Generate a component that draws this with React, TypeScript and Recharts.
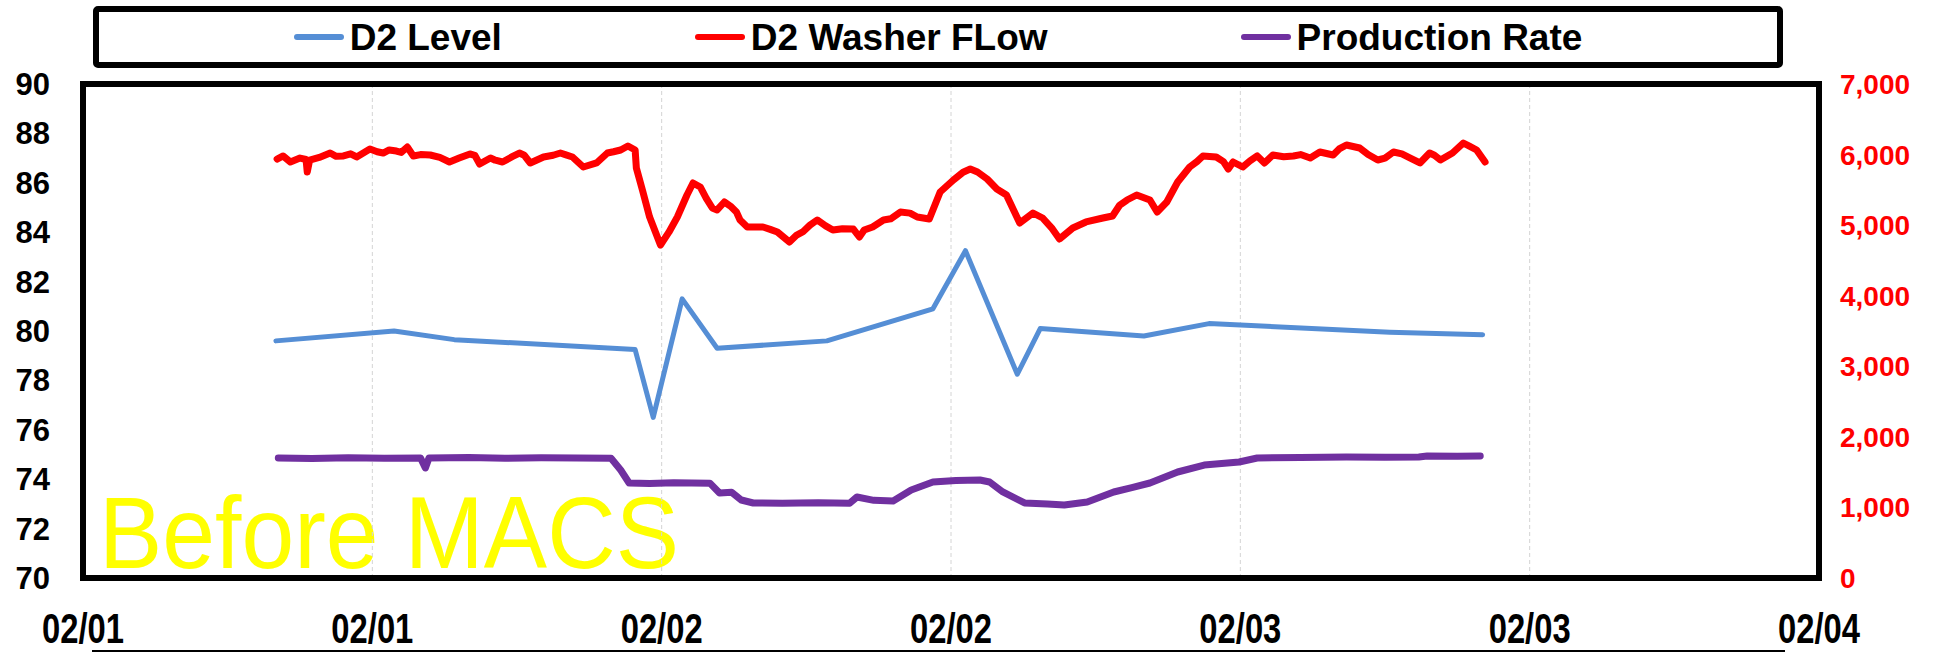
import React from 'react';
import { LineChart, Line, XAxis, YAxis, CartesianGrid, ReferenceArea } from 'recharts';

// hours since 02/01 00:00 -> value
const levelPoints: [number, number][] = [
  [8.0, 79.6], [12.9, 80.0], [15.4, 79.65], [22.9, 79.25], [23.65, 76.5], [24.85, 81.3],
  [26.3, 79.3], [30.85, 79.6], [35.25, 80.9], [36.6, 83.25], [38.75, 78.25], [39.7, 80.1],
  [44.0, 79.8], [46.7, 80.3], [54.2, 79.95], [58.05, 79.85],
];

const washerFlowPoints: [number, number][] = [
  [8.05, 5937], [8.3, 5980], [8.6, 5895], [9.0, 5951], [9.25, 5930], [9.3, 5753], [9.4, 5923],
  [9.8, 5960], [10.25, 6022], [10.5, 5975], [10.8, 5980], [11.1, 6010], [11.35, 5966], [11.9, 6079],
  [12.2, 6040], [12.45, 6022], [12.7, 6065], [13.0, 6050], [13.2, 6030], [13.45, 6107], [13.7, 5980],
  [14.0, 6000], [14.4, 5994], [14.8, 5960], [15.2, 5895], [15.6, 5950], [16.05, 6008], [16.25, 5990],
  [16.45, 5866], [16.9, 5951], [17.1, 5920], [17.4, 5895], [17.8, 5970], [18.1, 6022], [18.3, 5990],
  [18.55, 5881], [19.1, 5966], [19.5, 5990], [19.8, 6022], [20.0, 6000], [20.3, 5966], [20.75, 5824],
  [21.3, 5881], [21.75, 6022], [22.0, 6040], [22.3, 6065], [22.6, 6121], [22.9, 6065], [22.95, 5810],
  [23.2, 5500], [23.5, 5115], [23.95, 4718], [24.3, 4900], [24.65, 5115], [25.05, 5427], [25.3, 5597],
  [25.6, 5541], [25.85, 5380], [26.1, 5243], [26.3, 5215], [26.6, 5328], [26.85, 5270], [27.1, 5186],
  [27.25, 5073], [27.55, 4974], [28.2, 4974], [28.5, 4940], [28.8, 4903], [29.3, 4761], [29.6, 4860],
  [29.85, 4903], [30.15, 5000], [30.45, 5073], [30.8, 4990], [31.1, 4931], [31.5, 4950], [31.95, 4945],
  [32.2, 4832], [32.4, 4930], [32.75, 4974], [33.2, 5073], [33.5, 5090], [33.9, 5186], [34.3, 5170],
  [34.6, 5115], [35.1, 5087], [35.55, 5470], [36.1, 5640], [36.5, 5750], [36.8, 5795], [37.1, 5753],
  [37.5, 5654], [37.9, 5512], [38.3, 5427], [38.85, 5030], [39.4, 5172], [39.8, 5101], [40.2, 4950],
  [40.5, 4804], [41.05, 4960], [41.6, 5045], [42.3, 5101], [42.7, 5130], [43.0, 5285], [43.3, 5356],
  [43.7, 5427], [44.25, 5356], [44.55, 5186], [44.95, 5328], [45.4, 5611], [45.9, 5824], [46.2, 5900],
  [46.45, 5980], [47.0, 5966], [47.3, 5900], [47.5, 5795], [47.7, 5895], [48.1, 5824], [48.4, 5910],
  [48.7, 5980], [49.0, 5881], [49.35, 5994], [49.8, 5970], [50.2, 5980], [50.5, 6000], [50.9, 5951],
  [51.3, 6036], [51.85, 5994], [52.1, 6080], [52.4, 6136], [52.95, 6093], [53.3, 6000], [53.7, 5923],
  [54.0, 5950], [54.35, 6036], [54.7, 6010], [55.05, 5951], [55.45, 5881], [55.85, 6022], [56.05, 5990],
  [56.3, 5923], [56.8, 6022], [57.25, 6164], [57.5, 6120], [57.8, 6065], [58.15, 5895],
];

const productionPoints: [number, number][] = [
  [8.1, 1700], [9.5, 1695], [11.0, 1705], [12.5, 1698], [14.0, 1702], [14.2, 1559], [14.35, 1700],
  [16.0, 1706], [17.5, 1697], [19.0, 1704], [20.5, 1700], [21.9, 1698], [22.3, 1530], [22.65, 1346],
  [23.5, 1340], [24.5, 1350], [26.0, 1344], [26.4, 1204], [26.9, 1215], [27.3, 1105], [27.8, 1063],
  [29.0, 1058], [30.5, 1066], [31.8, 1060], [32.1, 1148], [32.8, 1100], [33.6, 1091], [34.35, 1247],
  [35.25, 1360], [36.2, 1380], [37.2, 1389], [37.6, 1360], [38.15, 1219], [39.05, 1063], [40.0, 1050],
  [40.7, 1034], [41.65, 1077], [42.75, 1219], [43.5, 1280], [44.25, 1346], [45.4, 1502], [46.5, 1601],
  [47.95, 1644], [48.7, 1700], [50.5, 1708], [52.4, 1715], [54.0, 1710], [55.4, 1715], [55.75, 1729],
  [57.0, 1725], [57.95, 1729],
];

const xTicks = [0, 12, 24, 36, 48, 60, 72];
const xTickLabels = ['02/01', '02/01', '02/02', '02/02', '02/03', '02/03', '02/04'];
const leftTicks = [70, 72, 74, 76, 78, 80, 82, 84, 86, 88, 90];
const rightTicks = [0, 1000, 2000, 3000, 4000, 5000, 6000, 7000];

const series = [
  { key: 'level', name: 'D2 Level', color: '#558ED5', axis: 'left', width: 5, points: levelPoints },
  { key: 'flow', name: 'D2 Washer FLow', color: '#FF0000', axis: 'right', width: 7, points: washerFlowPoints },
  { key: 'prod', name: 'Production Rate', color: '#7030A0', axis: 'right', width: 7, points: productionPoints },
];

const toRows = (pts: [number, number][]) => pts.map(([t, v]) => ({ t, v }));

const FONT = "'Liberation Sans', Arial, sans-serif";

// narrow, tall date labels like the original
function DateTick(props: any) {
  const { x, y, payload } = props;
  const label = xTickLabels[xTicks.indexOf(payload.value)] ?? '';
  return (
    <text
      x={x}
      y={y}
      dy={30}
      textAnchor="middle"
      fill="#000"
      fontFamily={FONT}
      fontWeight="bold"
      fontSize={42}
      textLength={82}
      lengthAdjust="spacingAndGlyphs"
    >
      {label}
    </text>
  );
}

function ChartLegend() {
  return (
    <div
      style={{
        position: 'absolute', left: 93, top: 6, width: 1690, height: 62, boxSizing: 'border-box',
        border: '6px solid #000', borderRadius: 5, display: 'flex', alignItems: 'center',
        justifyContent: 'center', gap: 193, background: '#fff',
      }}
    >
      {series.map((s) => (
        <div key={s.key} style={{ display: 'flex', alignItems: 'center' }}>
          <span style={{ display: 'inline-block', width: 50, height: 6, borderRadius: 3, background: s.color }} />
          <span style={{ marginLeft: 6, fontFamily: FONT, fontWeight: 'bold', fontSize: 37, color: '#000', lineHeight: 1 }}>
            {s.name}
          </span>
        </div>
      ))}
    </div>
  );
}

export default function App() {
  return (
    <div style={{ position: 'absolute', left: 0, top: 0, width: 1946, height: 652, background: '#fff', overflow: 'hidden' }}>
      <ChartLegend />
      <div style={{ position: 'absolute', left: 92, top: 650, width: 1693, height: 2, background: '#000' }} />
      <div
        style={{
          position: 'absolute', left: 99, top: 482, fontFamily: FONT, fontSize: 102, lineHeight: 1,
          color: '#FFFF00', transform: 'scaleX(0.93)', transformOrigin: 'left top', whiteSpace: 'nowrap',
        }}
      >
        Before MACS
      </div>
      <div style={{ position: 'absolute', left: 0, top: 0 }}>
        <LineChart width={1946} height={652} margin={{ top: 84, right: 0, bottom: 0, left: 0 }}>
          <CartesianGrid horizontal={false} stroke="#d4d4d4" strokeDasharray="4 3" yAxisId="left" />
          <XAxis
            dataKey="t"
            type="number"
            domain={[0, 72]}
            ticks={xTicks}
            allowDataOverflow
            height={74}
            tickLine={false}
            axisLine={false}
            tickSize={0}
            tickMargin={35}
            interval={0}
            tick={<DateTick />}
          />
          <YAxis
            yAxisId="left"
            orientation="left"
            domain={[70, 90]}
            ticks={leftTicks}
            width={83}
            tickLine={false}
            axisLine={false}
            tickSize={0}
            tickMargin={33}
            interval={0}
            tick={{ fill: '#000', fontSize: 31, fontWeight: 'bold', fontFamily: FONT }}
          />
          <YAxis
            yAxisId="right"
            orientation="right"
            domain={[0, 7000]}
            ticks={rightTicks}
            width={127}
            tickLine={false}
            axisLine={false}
            tickSize={0}
            tickMargin={21}
            interval={0}
            tickFormatter={(v: number) => v.toLocaleString('en-US')}
            tick={{ fill: '#FF0000', fontSize: 28, fontWeight: 'bold', fontFamily: FONT }}
          />
          {series.map((s) => (
            <Line
              key={s.key}
              data={toRows(s.points)}
              dataKey="v"
              name={s.name}
              yAxisId={s.axis}
              type="linear"
              stroke={s.color}
              strokeWidth={s.width}
              strokeLinejoin="round"
              strokeLinecap="round"
              dot={false}
              activeDot={false}
              isAnimationActive={false}
            />
          ))}
          <ReferenceArea
            yAxisId="left"
            x1={0}
            x2={72}
            y1={70}
            y2={90}
            fill="none"
            stroke="#000"
            strokeWidth={6}
            ifOverflow="visible"
          />
        </LineChart>
      </div>
    </div>
  );
}
